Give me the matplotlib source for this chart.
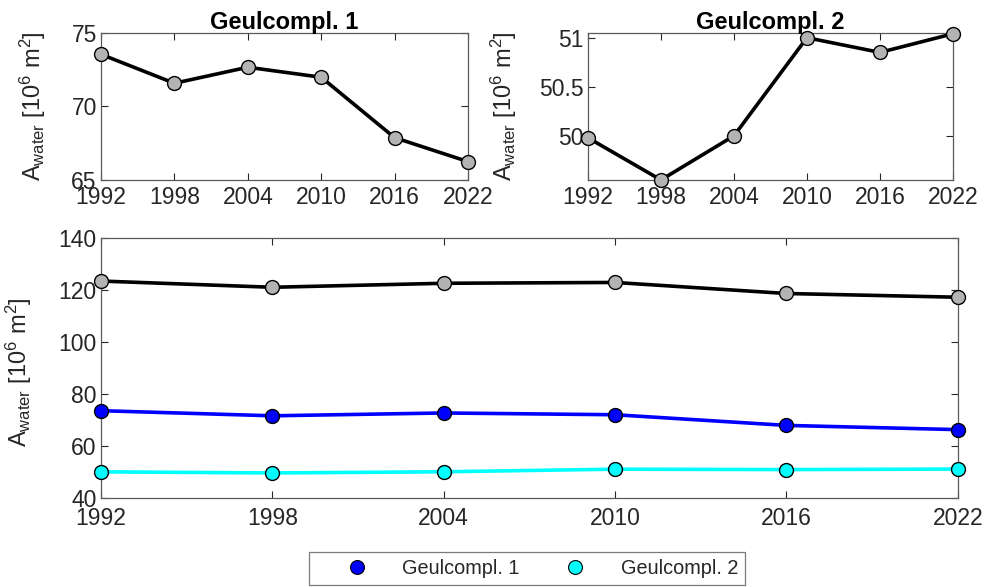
import numpy as np
import matplotlib
matplotlib.use('Agg')
import matplotlib.pyplot as plt
from matplotlib.lines import Line2D

plt.rcParams['font.family'] = ['Liberation Sans', 'DejaVu Sans']
plt.rcParams['mathtext.fontset'] = 'custom'
plt.rcParams['mathtext.rm'] = 'Liberation Sans'
plt.rcParams['mathtext.it'] = 'Liberation Sans:italic'

years = [1992, 1998, 2004, 2010, 2016, 2022]
geul1 = [73.55, 71.58, 72.67, 71.99, 67.88, 66.25]
geul2 = [49.98, 49.55, 50.00, 51.00, 50.85, 51.04]
total = [123.53, 121.13, 122.67, 122.99, 118.73, 117.29]

names = ['Geulcompl. 1', 'Geulcompl. 2']
ylab = r'A$_{\rm water}$ [10$^6$ m$^2$]'

dark = '#262626'
grey_face = '#b3b3b3'
fs = 16.5


def style(ax, xpad):
    ax.tick_params(direction='in', length=5, width=0.8, colors=dark,
                   labelsize=fs, top=True, right=True, labeltop=False,
                   labelright=False)
    ax.tick_params(axis='x', pad=xpad)
    ax.tick_params(axis='y', pad=3)
    for s in ax.spines.values():
        s.set_color('#5a5a5a')
        s.set_linewidth(0.9)
    ax.set_xlim(years[0], years[-1])
    ax.set_xticks(years)


fig = plt.figure(figsize=(9.91, 5.87), dpi=100)

# top left: first complex
ax1 = fig.add_axes([0.1019, 0.6934, 0.3703, 0.2504])
ax1.plot(years, geul1, '-o', color='k', lw=2.6, ms=10, mfc=grey_face,
         mec='k', mew=1.0, clip_on=False, zorder=3)
style(ax1, 4)
ax1.set_ylim(65, 75)
ax1.set_yticks([65, 70, 75])
ax1.set_title(names[0], fontsize=17, fontweight='bold', pad=3)
ax1.set_ylabel(ylab, fontsize=17, color=dark)
ax1.yaxis.set_label_coords(-0.145, 0.5)

# top right: second complex
ax2 = fig.add_axes([0.5933, 0.6934, 0.3683, 0.2504])
ax2.plot(years, geul2, '-o', color='k', lw=2.6, ms=10, mfc=grey_face,
         mec='k', mew=1.0, clip_on=False, zorder=3)
style(ax2, 4)
ax2.set_ylim(min(geul2), max(geul2) + 0.008)
ax2.set_yticks([50, 50.5, 51])
ax2.set_yticklabels(['50', '50.5', '51'])
ax2.set_title(names[1], fontsize=17, fontweight='bold', pad=3)
ax2.set_ylabel(ylab, fontsize=17, color=dark)
ax2.yaxis.set_label_coords(-0.19, 0.5)

# bottom: both complexes and their sum
ax3 = fig.add_axes([0.1019, 0.1521, 0.8645, 0.4419])
ax3.plot(years, total, '-o', color='k', lw=2.6, ms=10, mfc=grey_face,
         mec='k', mew=1.0, clip_on=False, zorder=3)
ax3.plot(years, geul1, '-o', color='#0000ff', lw=2.6, ms=10, mfc='#0000ff',
         mec='k', mew=1.0, clip_on=False, zorder=3)
ax3.plot(years, geul2, '-o', color='#00ffff', lw=2.6, ms=10, mfc='#00ffff',
         mec='k', mew=1.0, clip_on=False, zorder=3)
style(ax3, 7)
ax3.set_ylim(40, 140)
ax3.set_yticks(np.arange(40, 141, 20))
ax3.set_ylabel(ylab, fontsize=17, color=dark)
ax3.yaxis.set_label_coords(-0.078, 0.485)

handles = [Line2D([], [], ls='none', marker='o', ms=10, mfc='#0000ff', mec='k', mew=0.8),
           Line2D([], [], ls='none', marker='o', ms=10, mfc='#00ffff', mec='k', mew=0.8)]
leg = fig.legend(handles, names, loc='lower left', ncol=2,
                 bbox_to_anchor=(0.3118, 0.0034), fontsize=14.3, frameon=True,
                 fancybox=False, borderpad=0.35, borderaxespad=0,
                 handlelength=4.1, handletextpad=0.25, columnspacing=0.75)
leg.get_frame().set_edgecolor('#5a5a5a')
leg.get_frame().set_linewidth(0.9)
for t in leg.get_texts():
    t.set_color(dark)

fig.savefig('out.png', dpi=100)
